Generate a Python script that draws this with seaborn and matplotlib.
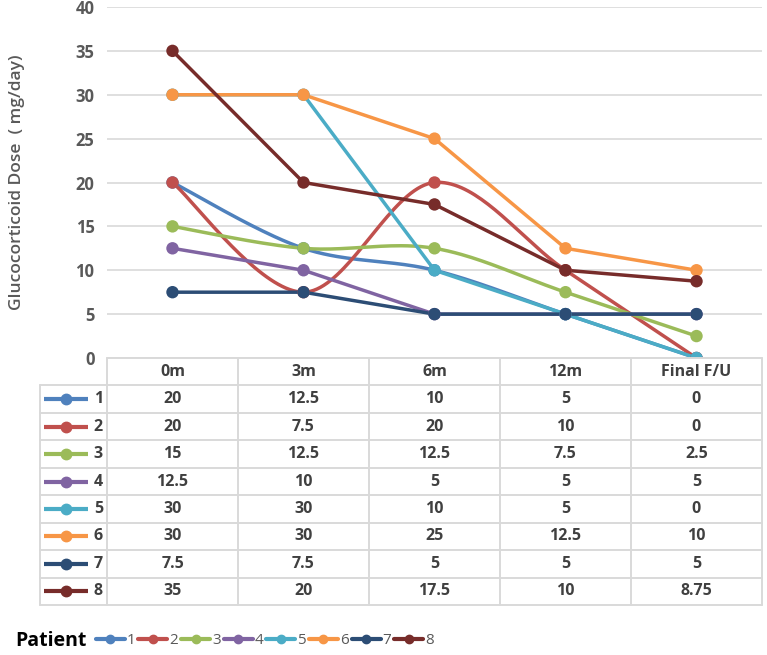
import numpy as np
import pandas as pd
import matplotlib.pyplot as plt
import seaborn as sns
from matplotlib.lines import Line2D

visitas = ["0m", "3m", "6m", "12m", "Final F/U"]
pacientes = ["1", "2", "3", "4", "5", "6", "7", "8"]
p1 = [20, 12.5, 10, 5, 0]
p2 = [20, 7.5, 20, 10, 0]
p3 = [15, 12.5, 12.5, 7.5, 2.5]
p4 = [12.5, 10, 5, 5, 5]
p5 = [30, 30, 10, 5, 0]
p6 = [30, 30, 25, 12.5, 10]
p7 = [7.5, 7.5, 5, 5, 5]
p8 = [35, 20, 17.5, 10, 8.75]
series = [p1, p2, p3, p4, p5, p6, p7, p8]
colores = ["#4F81BD", "#C0504D", "#9BBB59", "#8064A2",
           "#4BACC6", "#F79646", "#2C4D75", "#772C2A"]
# en el original solo las series 1-3 tienen línea suavizada
suave = [True, True, True, False, False, False, False, False]

GRIS_TXT = "#595959"
GRIS_LINEA = "#D9D9D9"

W, H = 767, 655
izq, der, arriba, abajo = 107, 762, 7, 358
ancho_cat = (der - izq) / len(visitas)
px_y = (abajo - arriba) / 40  # pixeles por unidad de dosis


def suavizar(y, n=40):
    """Curva suavizada estilo Excel (Bezier, puntos de control en pixeles)."""
    p = np.column_stack([np.arange(len(y)) * ancho_cat, np.asarray(y, float) * px_y])
    q = np.vstack([p[:1], p, p[-1:]])
    t = np.linspace(0, 1, n)[:, None]
    salida = []
    for i in range(len(y) - 1):
        a, b = q[i + 1], q[i + 2]
        d = np.linalg.norm(b - a)
        v1 = (b - q[i]) / 6
        v2 = (q[i + 3] - a) / 6
        # limitar el tirador a media longitud del tramo
        for v in (v1, v2):
            L = np.linalg.norm(v)
            if L > d / 2:
                v *= (d / 2) / L
        c1, c2 = a + v1, b - v2
        pts = (1 - t) ** 3 * a + 3 * (1 - t) ** 2 * t * c1 + 3 * (1 - t) * t ** 2 * c2 + t ** 3 * b
        salida.append(pts)
    pts = np.vstack(salida)
    return pts[:, 0] / ancho_cat, pts[:, 1] / px_y


filas = []
for pac, vals, sv in zip(pacientes, series, suave):
    if sv:
        xs, ys = suavizar(vals)
    else:
        xs, ys = np.arange(len(vals)), np.asarray(vals, float)
    for i, (xx, yy) in enumerate(zip(xs, ys)):
        filas.append({"x": xx, "y": yy, "Patient": pac})
curvas = pd.DataFrame(filas)
puntos = pd.DataFrame([{"x": i, "y": v, "Patient": pac}
                       for pac, vals in zip(pacientes, series)
                       for i, v in enumerate(vals)])

sns.set_theme(style="white")
plt.rcParams["font.family"] = ["Open Sans", "DejaVu Sans"]

fig = plt.figure(figsize=(W / 100, H / 100), dpi=100)

# ejes del gráfico
ax = fig.add_axes([izq / W, 1 - abajo / H, (der - izq) / W, (abajo - arriba) / H])
sns.lineplot(data=curvas, x="x", y="y", hue="Patient", palette=colores,
             sort=False, estimator=None, units="Patient", linewidth=2.5,
             legend=False, ax=ax)
sns.scatterplot(data=puntos, x="x", y="y", hue="Patient", palette=colores,
                s=80, linewidth=0, legend=False, ax=ax, zorder=3)
ax.set_xlim(-0.5, len(visitas) - 0.5)
ax.set_ylim(0, 40)
ax.set_yticks(range(0, 41, 5))
ax.set_xticks([])
ax.set_xlabel("")
ax.yaxis.grid(True, color=GRIS_LINEA, linewidth=1.2)
ax.set_axisbelow(True)
for s in ax.spines.values():
    s.set_visible(False)
ax.tick_params(axis="y", length=0, pad=9, labelsize=12, labelcolor=GRIS_TXT)
for lab in ax.get_yticklabels():
    lab.set_fontweight("bold")
ax.set_ylabel("Glucocorticoid Dose  ( mg/day)", color=GRIS_TXT, fontsize=12.5,
              fontweight="semibold")
ax.yaxis.set_label_coords(-0.125, 0.5)

# tabla de datos debajo del gráfico
t_izq, t_abajo = 40, 605
tx = fig.add_axes([t_izq / W, 1 - t_abajo / H, (der - t_izq) / W, (t_abajo - abajo) / H])
x0 = -0.5 - (izq - t_izq) / ancho_cat
tx.set_xlim(x0, len(visitas) - 0.5)
tx.set_ylim(len(pacientes) + 1, 0)
tx.axis("off")
nfil = len(pacientes) + 1
lw = 1.4
tx.plot([-0.5, len(visitas) - 0.5], [0, 0], color=GRIS_LINEA, lw=lw, clip_on=False)
for r in range(1, nfil + 1):
    tx.plot([x0, len(visitas) - 0.5], [r, r], color=GRIS_LINEA, lw=lw, clip_on=False)
tx.plot([x0, x0], [1, nfil], color=GRIS_LINEA, lw=lw, clip_on=False)
for c in range(len(visitas) + 1):
    tx.plot([c - 0.5, c - 0.5], [0, nfil], color=GRIS_LINEA, lw=lw, clip_on=False)
for c, v in enumerate(visitas):
    tx.text(c, 0.5, v, ha="center", va="center", fontsize=11.5,
            fontweight="bold", color="#404040")
for r, (pac, vals, col) in enumerate(zip(pacientes, series, colores), start=1):
    for c, v in enumerate(vals):
        tx.text(c, r + 0.5, f"{v:g}", ha="center", va="center", fontsize=11.5,
                fontweight="bold", color="#404040")
    xa = x0 + 4 / ancho_cat
    xb = x0 + 48 / ancho_cat
    tx.add_line(Line2D([xa, xb], [r + 0.5, r + 0.5], color=col, lw=3,
                       solid_capstyle="butt"))
    tx.plot([(xa + xb) / 2], [r + 0.5], "o", color=col, ms=7.5)
    tx.text(-0.5 - 4 / ancho_cat, r + 0.5, pac, ha="right", va="center",
            fontsize=11.5, fontweight="bold", color="#404040")

# leyenda inferior
fig.text(15 / W, 1 - 641 / H, "Patient", ha="left", va="center",
         fontsize=14, fontweight="bold", color="black")
manejadores = [Line2D([0], [0], color=c, lw=3, marker="o", ms=6) for c in colores]
fig.legend(manejadores, pacientes, loc="center left",
           bbox_to_anchor=(82 / W, 1 - 641 / H), ncol=8, frameon=False,
           handlelength=1.9, handletextpad=0.12, columnspacing=0.2,
           fontsize=11, labelcolor=GRIS_TXT)

fig.savefig("out.png", dpi=100)
